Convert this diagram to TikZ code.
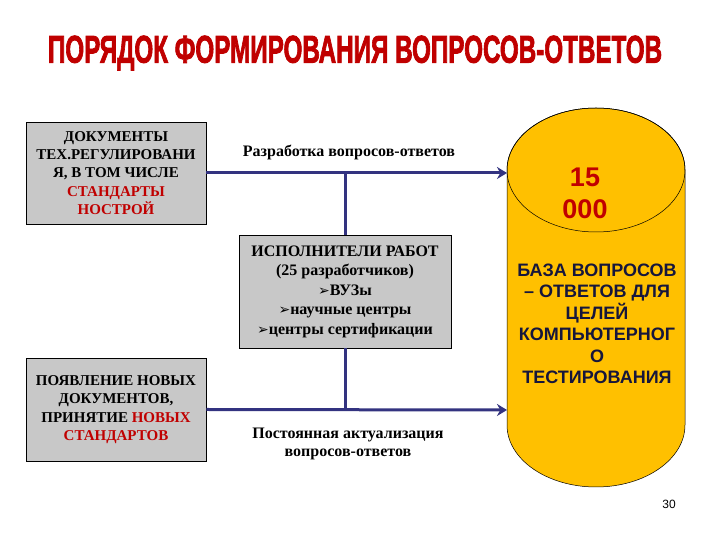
\documentclass[tikz,border=0pt]{standalone}
\usepackage{fontspec}
\setmainfont{Liberation Serif}
\setsansfont{Liberation Sans}
\newfontfamily\symfont{DejaVu Sans}
\newfontfamily\titlefont{Liberation Sans Bold}[FakeBold=2.5]
\usetikzlibrary{arrows.meta}

\definecolor{linkblue}{RGB}{51,51,128}
\definecolor{darkred}{RGB}{192,0,0}
\definecolor{boxgray}{RGB}{200,200,200}
\definecolor{dbgold}{RGB}{255,192,0}
\definecolor{dbtext}{RGB}{22,22,60}

\newcommand{\bul}{{\symfont\fontsize{14}{14}\selectfont ➢}}

\tikzset{
    graybox/.style={draw=black, fill=boxgray, line width=0.8pt, align=center,
        inner sep=2pt, font=\bfseries\fontsize{15}{18.3}\selectfont},
    flow/.style={draw=linkblue, line width=3pt},
    flowarrow/.style={flow, -{Stealth[length=10pt,width=12pt]}},
    flowlabel/.style={align=center, font=\bfseries\fontsize{16}{18.5}\selectfont}
}

\begin{document}
\begin{tikzpicture}[x=1pt,y=1pt]
    \useasboundingbox (0,0) rectangle (720,540);
    \fill[white] (0,0) rectangle (720,540);

    % title
    \node (title) at (355,487) {\resizebox{614pt}{27pt}{\titlefont\color{darkred}ПОРЯДОК ФОРМИРОВАНИЯ ВОПРОСОВ-ОТВЕТОВ}};

    % database cylinder
    \filldraw[fill=dbgold, draw=black, line width=0.5pt] (507,370) -- (507,115) arc (180:360:89 and 62) -- (685,370) arc (0:180:89 and 62) -- cycle;
    \draw[black, line width=0.5pt] (596,370) ellipse (89 and 62);
    \coordinate (dbtop) at (507,367);
    \coordinate (dbbot) at (507,130);
    \node (count) at (585,347) [align=center, text=darkred, font=\sffamily\bfseries\fontsize{27}{32}\selectfont] {15\\000};
    \node (dbname) at (597,216) [align=center, text=dbtext, font=\sffamily\bfseries\fontsize{18}{21.5}\selectfont] {БАЗА ВОПРОСОВ\\– ОТВЕТОВ ДЛЯ\\ЦЕЛЕЙ\\КОМПЬЮТЕРНОГ\\О\\ТЕСТИРОВАНИЯ};

    % boxes
    \node (docs) at (116,367) [graybox, minimum width=180, minimum height=102] {ДОКУМЕНТЫ\\ТЕХ.РЕГУЛИРОВАНИ\\Я, В ТОМ ЧИСЛЕ\\\textcolor{darkred}{СТАНДАРТЫ}\\\textcolor{darkred}{НОСТРОЙ}};
    \node (execs) at (345,248.5) [graybox, minimum width=212, minimum height=113, font=\bfseries\fontsize{16}{19.5}\selectfont] {ИСПОЛНИТЕЛИ РАБОТ\\(25 разработчиков)\\\bul ВУЗы\\\bul научные центры\\\bul центры сертификации};
    \node (newdocs) at (116,130.5) [graybox, minimum width=180, minimum height=103] {ПОЯВЛЕНИЕ НОВЫХ\\ДОКУМЕНТОВ,\\ПРИНЯТИЕ \textcolor{darkred}{НОВЫХ}\\\textcolor{darkred}{СТАНДАРТОВ}};

    % connectors
    \draw[flowarrow] (docs.east) -- (dbtop);
    \draw[flowarrow] (newdocs.east) -- (dbbot);
    \draw[flow] (execs.north) -- (execs.north |- dbtop);
    \draw[flow] (execs.south) -- (execs.south |- dbbot);

    % labels
    \node (devlabel) at (349,388) [flowlabel] {Разработка вопросов-ответов};
    \node (updlabel) at (348,96) [flowlabel] {Постоянная актуализация\\вопросов-ответов};
    \node (pagenum) at (669,36) [font=\sffamily\fontsize{12}{14}\selectfont] {30};
\end{tikzpicture}
\end{document}
